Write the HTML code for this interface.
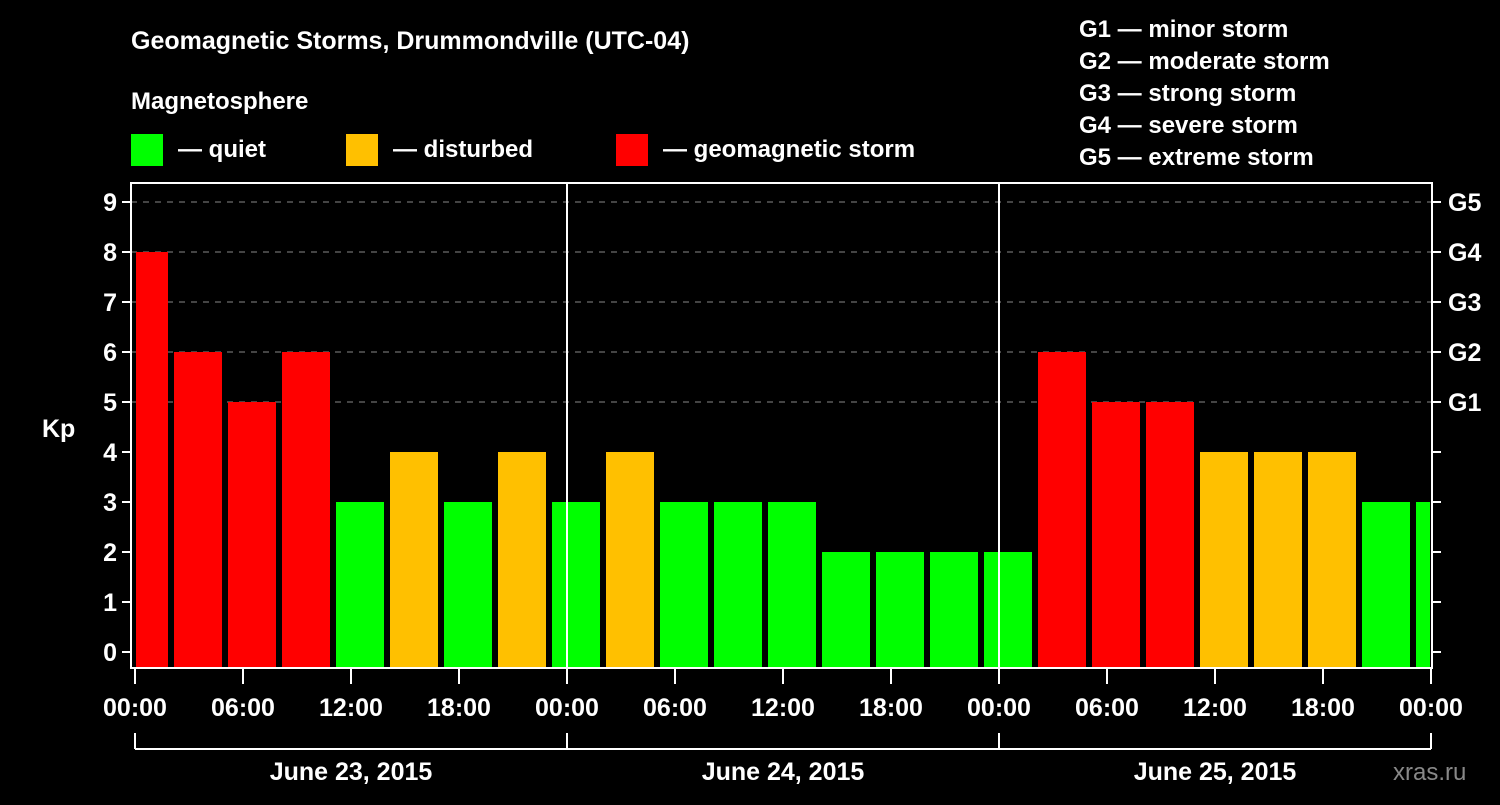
<!DOCTYPE html>
<html><head><meta charset="utf-8"><style>
body{margin:0;background:#000;width:1500px;height:800px;overflow:hidden}
svg text{font-family:"Liberation Sans",sans-serif;font-weight:bold;fill:#fff}
</style></head><body>
<svg id="chart" width="1500" height="800" xmlns="http://www.w3.org/2000/svg">
<text x="131" y="49" font-size="25">Geomagnetic Storms, Drummondville (UTC-04)</text>
<text x="131" y="109" font-size="24">Magnetosphere</text>
<rect x="131" y="134" width="32" height="32" fill="#00ff00"/>
<text x="178" y="157" font-size="24">— quiet</text>
<rect x="346" y="134" width="32" height="32" fill="#ffc000"/>
<text x="393" y="157" font-size="24">— disturbed</text>
<rect x="616" y="134" width="32" height="32" fill="#ff0000"/>
<text x="663" y="157" font-size="24">— geomagnetic storm</text>
<g font-size="24">
<text x="1079" y="37">G1 — minor storm</text>
<text x="1079" y="69">G2 — moderate storm</text>
<text x="1079" y="101">G3 — strong storm</text>
<text x="1079" y="133">G4 — severe storm</text>
<text x="1079" y="165">G5 — extreme storm</text>
</g>
<text x="42" y="437" font-size="25">Kp</text>
<text x="1393" y="780" font-size="24" style="fill:#888;font-weight:normal">xras.ru</text>
<g id="grid"></g><g id="bars"></g><g id="axes"></g>
</svg>
<script>
const kpValues=[8,6,5,6,3,4,3,4,3,4,3,3,3,2,2,2,2,6,5,5,4,4,4,3,3];
const yTicks=[0,1,2,3,4,5,6,7,8,9];
const gLabels=["G1","G2","G3","G4","G5"];
const xTickLabels=["00:00","06:00","12:00","18:00","00:00","06:00","12:00","18:00","00:00","06:00","12:00","18:00","00:00"];
const dayLabels=["June 23, 2015","June 24, 2015","June 25, 2015"];
const NS="http://www.w3.org/2000/svg";
const X0=135,PXH=18,Y0=652,PXK=50,L=131,R=1432,T=183,B=668;
const xs=h=>X0+h*PXH, ys=v=>Y0-v*PXK;
function mk(tag,attrs,parent,txt){const e=document.createElementNS(NS,tag);for(const k in attrs)e.setAttribute(k,attrs[k]);if(txt!==undefined)e.textContent=txt;parent.appendChild(e);return e;}
const grid=document.getElementById('grid'),bars=document.getElementById('bars'),axes=document.getElementById('axes');
yTicks.forEach(v=>{
  if(v>=5){const l=mk('line',{x1:L,x2:R,y1:ys(v),y2:ys(v),stroke:'#888','stroke-width':1,'stroke-dasharray':'6,6'},grid);
  
  }
  const t=mk('line',{x1:L-9,x2:L,y1:ys(v),y2:ys(v),stroke:'#fff','stroke-width':2},axes);
  
  
  const rt=mk('line',{x1:R,x2:R+9,y1:ys(v),y2:ys(v),stroke:'#fff','stroke-width':2},axes);
  
  
  const tx=mk('text',{x:L-14,y:ys(v)+9,'font-size':25,'text-anchor':'end'},axes,String(v));
  
  
});
gLabels.forEach((g,i)=>{const t=mk('text',{x:1448,y:ys(5+i)+9,'font-size':25},axes,g);
  
  });
kpValues.forEach((v,i)=>{
  const s=Math.max(xs(2+3*(i-1))+3,X0+1), e=Math.min(xs(2+3*i)-3,R-2);
  const c=v>=5?'#ff0000':(v>=4?'#ffc000':'#00ff00');
  const r=mk('rect',{x:s,y:ys(v),width:e-s,height:B-ys(v),fill:c},bars);
  
  
});
[1,2].forEach(d=>{const l=mk('line',{x1:xs(24*d),x2:xs(24*d),y1:T,y2:B,stroke:'#fff','stroke-width':2},axes);
  
  });
const fr=mk('rect',{x:L,y:T,width:R-L,height:B-T,fill:'none',stroke:'#fff','stroke-width':2},axes);


xTickLabels.forEach((lab,i)=>{const x=xs(6*i);
  const t=mk('line',{x1:x,x2:x,y1:B,y2:B+16,stroke:'#fff','stroke-width':2},axes);
  
  
  const tx=mk('text',{x:x,y:716,'font-size':25,'text-anchor':'middle'},axes,lab);
  
  });
const br=mk('line',{x1:xs(0),x2:xs(72),y1:749,y2:749,stroke:'#fff','stroke-width':2},axes);


[0,1,2,3].forEach(d=>{const l=mk('line',{x1:xs(24*d),x2:xs(24*d),y1:733,y2:749,stroke:'#fff','stroke-width':2},axes);
  
  });
dayLabels.forEach((d,i)=>{const t=mk('text',{x:xs(24*i+12),y:780,'font-size':25,'text-anchor':'middle'},axes,d);
  
  });
</script>
</body></html>
